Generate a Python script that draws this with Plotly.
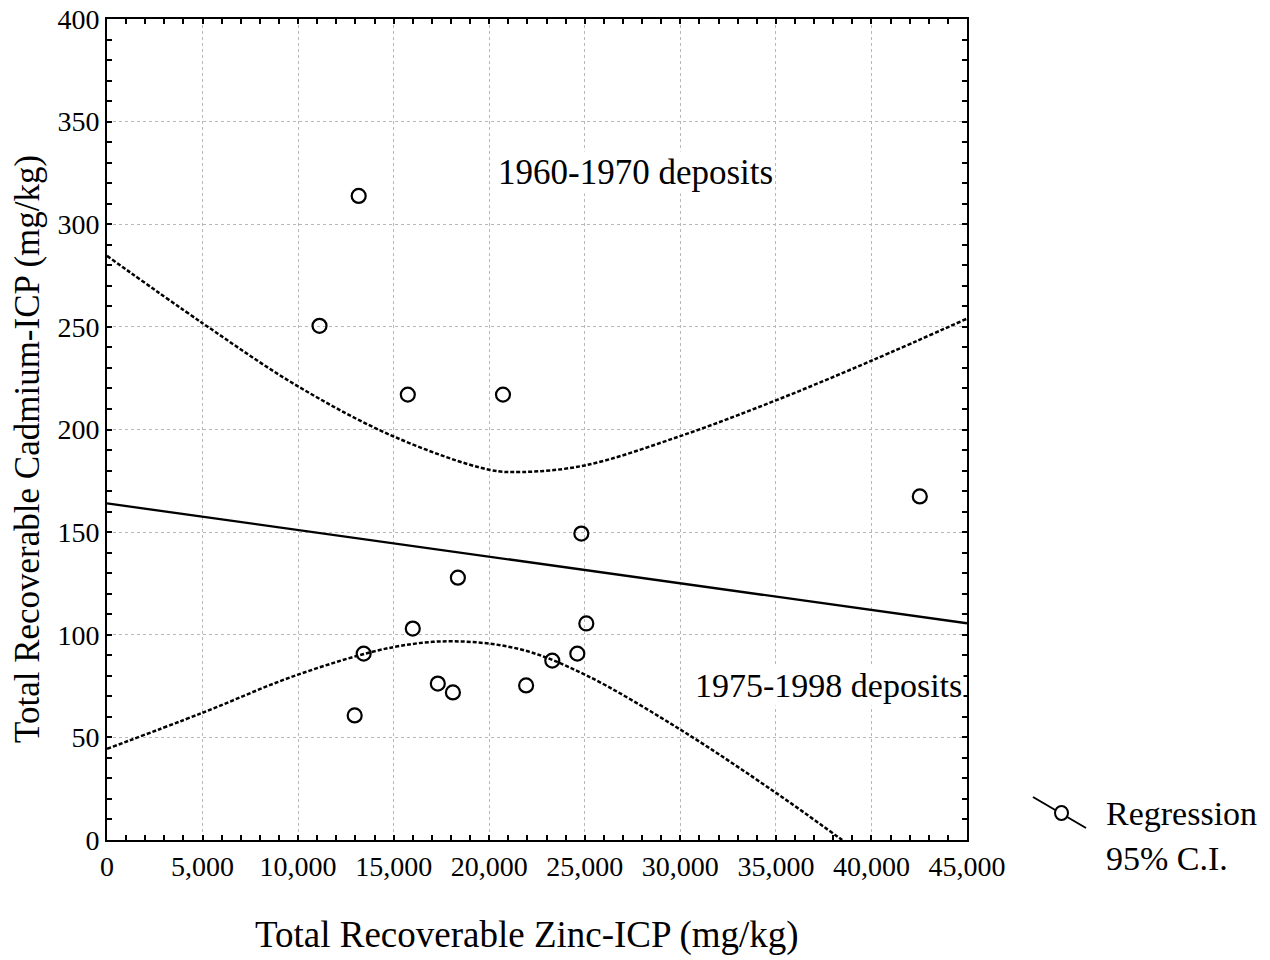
import plotly.graph_objects as go

# ---- data ----
zinc = [13170, 11120, 15740, 20720, 42530, 24820, 18360, 16000, 25080,
        13430, 24610, 23300, 17310, 18100, 21930, 12960]
cadmium = [313.8, 250.5, 217.0, 217.0, 167.4, 149.3, 127.8, 103.0, 105.5,
           90.8, 90.8, 87.4, 76.2, 71.9, 75.3, 60.7]

reg_x = [0, 45000]
reg_y = [164.0, 105.6]

ci_up_x = [0, 5000, 10000, 15000, 20000, 21700, 25000, 30000, 35000, 40000, 45000]
ci_up_y = [284.6, 251.8, 221.0, 196.6, 180.4, 179.3, 182.5, 196.8, 214.2, 233.5, 254.0]

ci_lo_x = [0, 5000, 10000, 15000, 18200, 21670, 25000, 30000, 35000, 38400, 40000]
ci_lo_y = [44.4, 62.0, 80.6, 94.0, 96.8, 92.8, 80.6, 53.8, 23.0, 0.5, -10.0]

x_ticks = [0, 5000, 10000, 15000, 20000, 25000, 30000, 35000, 40000, 45000]
y_ticks = [0, 50, 100, 150, 200, 250, 300, 350, 400]

FONT = "Liberation Serif"

fig = go.Figure()
for cx, cy in ((ci_up_x, ci_up_y), (ci_lo_x, ci_lo_y)):
    fig.add_trace(go.Scatter(x=cx, y=cy, mode="lines",
                             line=dict(color="black", width=2.5, dash="4px,2px",
                                       shape="spline"),
                             showlegend=False, hoverinfo="skip"))
fig.add_trace(go.Scatter(x=reg_x, y=reg_y, mode="lines",
                         line=dict(color="black", width=2.3),
                         showlegend=False))
fig.add_trace(go.Scatter(x=zinc, y=cadmium, mode="markers",
                         marker=dict(symbol="circle-open", size=14, color="black",
                                     line=dict(width=2.2)),
                         showlegend=False))

W, H = 1270, 960
L, R, T, B = 107, 303, 19, 120
pw, ph = W - L - R, H - T - B


def px(x):
    return (x - L) / pw


def py(y):
    return (H - B - y) / ph


grid = dict(showgrid=True, gridcolor="#b8b8b8", gridwidth=1.3, griddash="3px,3px")

fig.update_xaxes(range=[0, 45000], tickvals=x_ticks, tickformat=",d",
                 ticks="inside", ticklen=5, tickwidth=1.5, tickcolor="black",
                 minor=dict(dtick=1000, ticks="inside", ticklen=5, tickwidth=1.5,
                            tickcolor="black", showgrid=False),
                 showline=True, linecolor="black", linewidth=2, mirror="allticks",
                 zeroline=False, automargin=False,
                 tickfont=dict(family=FONT, size=28, color="black"),
                 **grid)
fig.update_yaxes(range=[0, 400], tickvals=y_ticks,
                 ticks="inside", ticklen=5, tickwidth=1.5, tickcolor="black",
                 minor=dict(dtick=10, ticks="inside", ticklen=5, tickwidth=1.5,
                            tickcolor="black", showgrid=False),
                 showline=True, linecolor="black", linewidth=2, mirror="allticks",
                 zeroline=False, automargin=False,
                 tickfont=dict(family=FONT, size=28, color="black"),
                 **grid)

annotations = [
    dict(text="Total Recoverable Zinc-ICP (mg/kg)", xref="paper", yref="paper",
         x=px(527), y=py(935), xanchor="center", yanchor="middle", showarrow=False,
         font=dict(family=FONT, size=37, color="black")),
    dict(text="Total Recoverable Cadmium-ICP (mg/kg)", xref="paper", yref="paper",
         x=px(28), y=py(449), xanchor="center", yanchor="middle", showarrow=False,
         textangle=-90, font=dict(family=FONT, size=35, color="black")),
    dict(text="1960-1970 deposits", x=27650, y=325, xref="x", yref="y",
         xanchor="center", yanchor="middle", showarrow=False, bgcolor="white",
         font=dict(family=FONT, size=35, color="black")),
    dict(text="1975-1998 deposits", x=44850, y=75.3, xref="x", yref="y",
         xanchor="right", yanchor="middle", showarrow=False, bgcolor="white",
         font=dict(family=FONT, size=34, color="black")),
    dict(text="Regression", xref="paper", yref="paper", x=px(1104), y=py(813),
         xanchor="left", yanchor="middle", showarrow=False,
         font=dict(family=FONT, size=34, color="black")),
    dict(text="95% C.I.", xref="paper", yref="paper", x=px(1104), y=py(858),
         xanchor="left", yanchor="middle", showarrow=False,
         font=dict(family=FONT, size=34, color="black")),
]

shapes = [
    dict(type="line", xref="paper", yref="paper",
         x0=px(1033), y0=py(797), x1=px(1086), y1=py(828),
         line=dict(color="black", width=2)),
    dict(type="circle", xref="paper", yref="paper",
         x0=px(1055), y0=py(806), x1=px(1068), y1=py(820),
         fillcolor="white", line=dict(color="black", width=2)),
]

fig.update_layout(
    width=W, height=H,
    margin=dict(l=L, r=R, t=T, b=B, autoexpand=False),
    paper_bgcolor="white", plot_bgcolor="white",
    annotations=annotations, shapes=shapes,
    showlegend=False,
)

fig.write_html("out.html")
